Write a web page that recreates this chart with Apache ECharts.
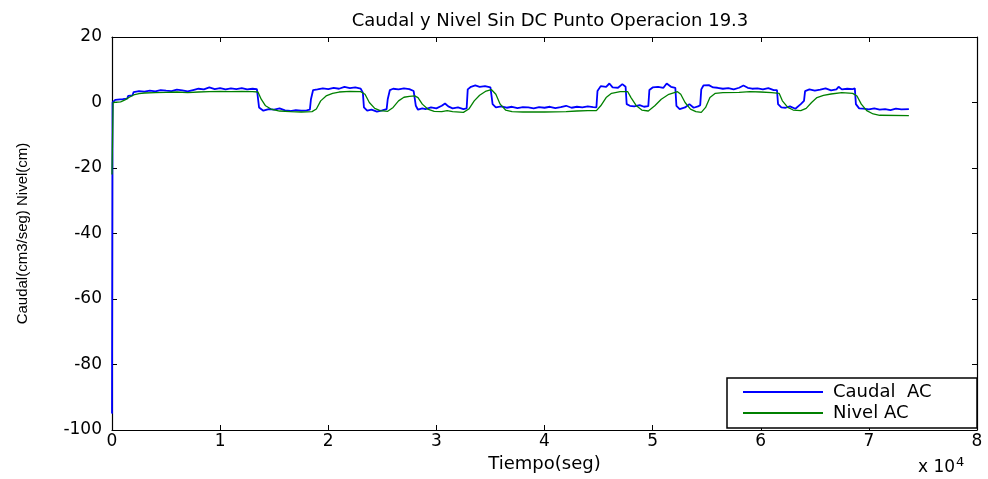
<!DOCTYPE html>
<html>
<head>
<meta charset="utf-8">
<script src="https://cdn.jsdelivr.net/npm/echarts@6/dist/echarts.min.js"></script>
<style>html,body{margin:0;padding:0;background:#fff}#c{width:988px;height:479px}</style>
</head>
<body>
<div id="c"></div>
<script>
var titleText = 'Caudal y Nivel Sin DC Punto Operacion 19.3';
var xName = 'Tiempo(seg)';
var yName = 'Caudal(cm3/seg) Nivel(cm)';
var seriesNames = ['Caudal  AC', 'Nivel AC'];
var xTicks = [0, 10000, 20000, 30000, 40000, 50000, 60000, 70000, 80000];
var yTicks = [-100, -80, -60, -40, -20, 0, 20];

var caudalT = [0,50,300,1000,1400,1500,1900,2000,2500,3000,3500,4000,4500,5000,5500,6000,6500,7000,7500,8000,8500,9000,9500,10000,10500,11000,11500,12000,12500,13000,13400,13600,14000,14500,15000,15500,16000,16500,17000,17500,18000,18300,18400,18600,19000,19500,20000,20500,21000,21500,22000,22500,23000,23200,23300,23600,24000,24500,25000,25400,25500,25700,26000,26500,27000,27500,27900,28100,28300,28700,29000,29500,30000,30500,30800,31100,31500,32000,32500,32800,32900,33200,33600,34000,34500,35000,35200,35500,36000,36500,37000,37500,38000,38500,39000,39500,40000,40500,41000,41500,42000,42500,43000,43500,44000,44500,44800,44900,45200,45700,46000,46300,46800,47200,47500,47600,47900,48300,48800,49200,49600,49700,50000,50500,51000,51300,51700,52100,52200,52500,53000,53400,53800,54200,54400,54500,54700,55200,55600,56000,56500,57000,57500,58000,58400,58800,59200,59700,60200,60700,61200,61500,61600,61900,62300,62700,63200,63700,64000,64100,64500,65000,65500,66000,66500,67000,67200,67500,68000,68500,68700,68800,69100,69500,70000,70500,71000,71500,72000,72500,73000,73700];
var caudalV = [-95,0,0.8,1.0,1.2,2.0,2.2,3.2,3.5,3.3,3.6,3.4,3.8,3.6,3.5,3.9,3.7,3.4,3.8,4.2,4.0,4.6,4.1,4.4,4.0,4.3,4.1,4.4,4.0,4.2,4.1,-1.5,-2.5,-2.0,-2.2,-1.8,-2.4,-2.6,-2.3,-2.5,-2.4,-2.2,1.0,3.8,4.0,4.3,4.1,4.5,4.2,4.8,4.4,4.6,4.2,3.0,-1.5,-2.5,-2.2,-2.8,-2.4,-2.0,1.0,3.8,4.2,4.0,4.3,4.1,3.5,-1.0,-2.2,-1.8,-2.0,-1.5,-1.8,-1.0,-0.3,-1.2,-1.8,-1.5,-2.0,-1.8,4.0,4.8,5.2,4.8,5.0,4.6,-0.5,-1.5,-1.2,-1.6,-1.3,-1.7,-1.4,-1.5,-1.8,-1.4,-1.6,-1.3,-1.7,-1.4,-1.0,-1.6,-1.3,-1.5,-1.2,-1.4,-1.5,3.5,5.0,4.8,5.8,4.6,4.5,5.6,4.8,-0.5,-1.0,-1.2,-0.8,-1.3,-1.1,3.8,4.6,4.8,4.5,5.8,4.8,4.5,-1.0,-2.0,-1.5,-0.5,-1.6,-1.2,-0.8,4.0,5.2,5.3,4.6,4.5,4.2,4.4,4.0,4.5,5.2,4.5,4.2,4.3,4.0,4.4,3.8,3.8,-0.5,-1.5,-1.6,-1.2,-1.9,-0.5,0.5,3.5,4.0,3.6,3.9,4.3,3.7,4.0,4.8,4.0,4.2,4.1,4.3,-0.5,-1.8,-1.9,-2.1,-1.8,-2.2,-2.0,-2.3,-1.9,-2.1,-2.0];

var nivelT = [0,100,800,1200,1600,2000,2500,3000,4000,5000,6000,7000,8000,9000,10000,11000,12000,13000,13500,13800,14200,14700,15500,16500,17500,18500,18900,19300,19800,20400,21000,22000,23000,23400,23800,24300,24800,25500,26000,26500,27000,27500,28000,28300,28700,29200,29800,30500,31000,31500,32500,33000,33500,34000,34600,35100,35500,35900,36400,37000,38000,40000,42000,43000,44000,44800,45200,45700,46200,47000,47700,48000,48500,49000,49600,50200,50800,51500,52300,52600,53000,53500,54000,54500,54900,55300,55800,56500,58000,59000,60000,61000,61700,62000,62500,63000,63700,64200,64700,65200,65800,66500,67500,68500,68900,69300,69800,70400,71000,73700];
var nivelV = [-22,0,0.2,0.8,1.6,2.3,2.7,2.9,3.0,3.1,3.2,3.0,3.2,3.3,3.4,3.3,3.4,3.3,3.2,1.0,-1.0,-2.0,-2.6,-2.8,-2.9,-2.8,-2.0,0.5,2.0,2.8,3.2,3.4,3.3,2.5,0,-1.8,-2.5,-2.7,-1.5,0.5,1.6,1.9,2.0,1.5,-0.5,-2.0,-2.7,-2.8,-2.5,-2.8,-3.0,-2.0,0.5,2.2,3.5,3.9,2.5,-0.5,-2.3,-2.8,-2.9,-2.9,-2.8,-2.6,-2.5,-2.5,-1.0,1.5,2.8,3.3,3.3,1.5,-1.0,-2.3,-2.6,-1.0,1.0,2.5,3.3,2.5,0,-2.0,-2.8,-3.0,-1.5,1.5,2.8,3.0,3.1,3.3,3.2,3.0,2.8,0.5,-1.5,-2.3,-2.5,-1.8,0,1.5,2.2,2.6,3.0,2.8,2.0,-0.5,-2.5,-3.5,-3.9,-4.0];

function pairs(t, v) { return t.map(function (x, i) { return [x, v[i]]; }); }

var FONT = 'DejaVu Sans';
var chart = echarts.init(document.getElementById('c'), null, {renderer: 'canvas'});
var axisCommon = {
  type: 'value',
  axisLine: {show: true, onZero: false, lineStyle: {color: '#000', width: 1.2}},
  axisTick: {show: true, inside: true, length: 5, lineStyle: {color: '#000'}},
  splitLine: {show: false}
};
chart.setOption({
  animation: false,
  backgroundColor: '#fff',
  title: {
    text: titleText, left: 545, textAlign: 'center', top: 7,
    textStyle: {fontFamily: FONT, fontSize: 18, fontWeight: 'normal', color: '#000'}
  },
  grid: {left: 112, right: 11, top: 37, bottom: 49},
  legend: {
    left: 727, top: 378, orient: 'vertical',
    data: seriesNames,
    icon: 'rect', itemWidth: 80, itemHeight: 2, itemGap: 3,
    padding: [5, 4, 6, 16],
    borderColor: '#000', borderWidth: 1.5, backgroundColor: '#fff',
    textStyle: {fontFamily: FONT, fontSize: 18, color: '#000', lineHeight: 18, width: 140, padding: [0, 0, 0, 5]}
  },
  xAxis: [
    Object.assign({}, axisCommon, {
      position: 'bottom', min: xTicks[0], max: xTicks[xTicks.length - 1], interval: 10000,
      name: xName, nameLocation: 'middle', nameGap: 23,
      nameTextStyle: {fontFamily: FONT, fontSize: 18, color: '#000'},
      axisLabel: {fontFamily: FONT, fontSize: 17, color: '#000', margin: 3,
        formatter: function (v) { return String(v / 10000); }}
    }),
    Object.assign({}, axisCommon, {
      position: 'top', min: xTicks[0], max: xTicks[xTicks.length - 1], interval: 10000,
      axisLabel: {show: false}
    })
  ],
  yAxis: [
    Object.assign({}, axisCommon, {
      position: 'left', min: yTicks[0], max: yTicks[yTicks.length - 1], interval: 20,
      name: yName, nameLocation: 'middle', nameGap: 82,
      nameTextStyle: {fontFamily: 'Liberation Sans', fontSize: 15, color: '#000'},
      axisLabel: {fontFamily: FONT, fontSize: 17, color: '#000', margin: 10,
        formatter: function (v) { return String(v); }}
    }),
    Object.assign({}, axisCommon, {
      position: 'right', min: yTicks[0], max: yTicks[yTicks.length - 1], interval: 20,
      axisLabel: {show: false}
    })
  ],
  graphic: [{
    type: 'text', left: 918, top: 456,
    style: {
      text: 'x 10{sup|4}',
      font: '17px "DejaVu Sans"', fill: '#000',
      rich: {sup: {fontSize: 13, fontFamily: FONT, verticalAlign: 'top', padding: [0, 0, 10, 1]}}
    }
  }],
  series: [
    {name: seriesNames[0], type: 'line', data: pairs(caudalT, caudalV), showSymbol: false, symbol: 'none',
      lineStyle: {color: '#0000ff', width: 1.8}, itemStyle: {color: '#0000ff'}, z: 2},
    {name: seriesNames[1], type: 'line', data: pairs(nivelT, nivelV), showSymbol: false, symbol: 'none',
      lineStyle: {color: '#008000', width: 1.3}, itemStyle: {color: '#008000'}, z: 3}
  ]
});
</script>
</body>
</html>
